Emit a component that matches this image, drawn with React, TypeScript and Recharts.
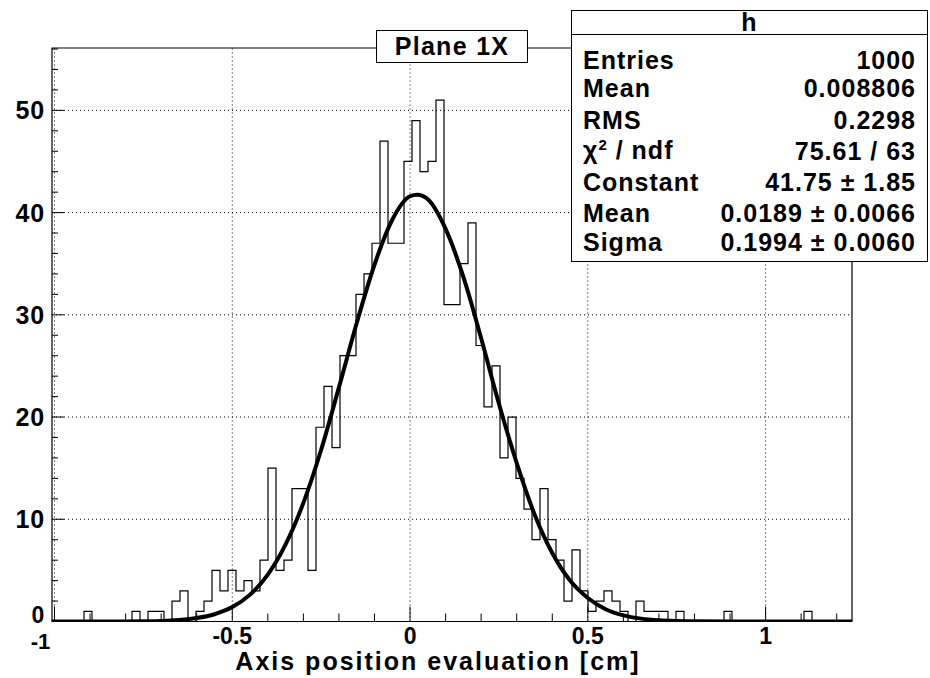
import { ComposedChart, Line, XAxis, YAxis, ReferenceLine, ReferenceArea } from "recharts";

// histogram range / binning (100 bins)
const X_MIN = -1.007;
const X_MAX = 1.243;
const Y_MAX = 56.1;
const BIN_W = (X_MAX - X_MIN) / 100;

// counts per bin
const binCounts = [
  0, 0, 0, 0, 1, 0, 0, 0, 0, 0,
  1, 0, 1, 1, 0, 2, 3, 0, 1, 2,
  5, 3, 5, 3, 4, 3, 6, 15, 5, 6,
  13, 13, 5, 19, 23, 17, 26, 26, 32, 34,
  37, 47, 37, 37, 45, 49, 44, 45, 51, 31,
  31, 35, 39, 27, 21, 25, 16, 20, 14, 11,
  8, 13, 8, 6, 2, 7, 3, 1, 2, 3,
  2, 1, 0, 2, 1, 1, 1, 0, 1, 0,
  0, 0, 0, 0, 1, 0, 0, 0, 0, 0,
  0, 0, 0, 0, 1, 0, 0, 0, 0, 0,
];

// gaus fit curve
const fitX = [-1.007, -0.9, -0.8, -0.75, -0.7, -0.65, -0.6, -0.55, -0.5, -0.45, -0.4, -0.35, -0.3, -0.25, -0.2, -0.15, -0.1, -0.05, 0, 0.02, 0.05, 0.1, 0.15, 0.2, 0.25, 0.3, 0.35, 0.4, 0.45, 0.5, 0.55, 0.6, 0.65, 0.7, 0.75, 0.8, 0.9, 1.0, 1.1, 1.243];
const fitY = [0, 0, 0.01, 0.03, 0.06, 0.15, 0.34, 0.71, 1.41, 2.63, 4.59, 7.54, 11.6, 16.8, 22.9, 29.2, 34.9, 39.3, 41.6, 41.75, 41.3, 38.4, 33.7, 27.7, 21.3, 15.5, 10.5, 6.7, 4.0, 2.3, 1.2, 0.6, 0.28, 0.12, 0.05, 0.02, 0, 0, 0, 0];

const xTicks = [-1, -0.9, -0.8, -0.7, -0.6, -0.5, -0.4, -0.3, -0.2, -0.1, 0, 0.1, 0.2, 0.3, 0.4, 0.5, 0.6, 0.7, 0.8, 0.9, 1, 1.1, 1.2];
const yTicks = [0, 2, 4, 6, 8, 10, 12, 14, 16, 18, 20, 22, 24, 26, 28, 30, 32, 34, 36, 38, 40, 42, 44, 46, 48, 50, 52, 54, 56];
const xGrid = [-1, -0.5, 0, 0.5, 1];
const yGrid = [10, 20, 30, 40, 50];

const statsLabels = ["Entries", "Mean", "RMS", "chi2", "Constant", "Mean", "Sigma"];
const statsValues = ["1000", "0.008806", "0.2298", "75.61 / 63", "41.75 \u00b1 1.85", "0.0189 \u00b1 0.0066", "0.1994 \u00b1 0.0060"];
const statsRowY = [59, 87, 119, 150, 181, 212, 241];

const W = 930;
const H = 678;
const PLOT_LEFT = 52;
const PLOT_BOTTOM = 621.5;
const FONT = '"Liberation Sans", Arial, Helvetica, sans-serif';

const histData = binCounts.map((c, i) => ({ x: X_MIN + i * BIN_W, y: c }));
histData.push({ x: X_MAX, y: binCounts[binCounts.length - 1] });
const fitData = fitX.map((x, i) => ({ x, y: fitY[i] }));

function XTick(props: any) {
  const { x, payload } = props;
  const v = payload.value;
  const major = Math.abs(v * 2 - Math.round(v * 2)) < 1e-6;
  return (
    <g>
      <line x1={x} x2={x} y1={PLOT_BOTTOM} y2={PLOT_BOTTOM - (major ? 15 : 8)} stroke="#000" strokeWidth={1} />
      {major && (
        <text x={v === -1 ? x - 14 : x} y={PLOT_BOTTOM + (v === -1 ? 20 : 14)} textAnchor="middle" dominantBaseline="central"
          fontFamily={FONT} fontWeight="bold" fontSize={v === -1 ? 22 : 23} fill="#000">
          {String(v)}
        </text>
      )}
    </g>
  );
}

function YTick(props: any) {
  const { y, payload } = props;
  const v = payload.value;
  const major = v % 10 === 0;
  return (
    <g>
      <line x1={PLOT_LEFT} x2={PLOT_LEFT + (major ? 12 : 6)} y1={y} y2={y} stroke="#000" strokeWidth={1} />
      {major && (
        <text x={PLOT_LEFT - 7} y={v === 0 ? y - 7 : y} textAnchor="end" dominantBaseline="central"
          fontFamily={FONT} fontWeight="bold" fontSize={v === 0 ? 23 : 25} letterSpacing={0.8} fill="#000">
          {String(v)}
        </text>
      )}
    </g>
  );
}

export default function App() {
  return (
    <div style={{ position: "absolute", left: 0, top: 0, width: W, height: H, background: "#fff", fontFamily: FONT }}>
      <ComposedChart width={W} height={H} margin={{ top: 48, right: 78, bottom: 0, left: 0 }}>
        <XAxis dataKey="x" type="number" domain={[X_MIN, X_MAX]} allowDataOverflow ticks={xTicks} interval={0}
          height={56.5} axisLine={false} tickLine={false} tick={<XTick />} />
        <YAxis type="number" domain={[0, Y_MAX]} allowDataOverflow ticks={yTicks} interval={0}
          width={52} axisLine={false} tickLine={false} tick={<YTick />} />
        {xGrid.map((g) => (
          <ReferenceLine key={"gx" + g} x={g} stroke="#000" strokeWidth={1} strokeDasharray="1 3" />
        ))}
        {yGrid.map((g) => (
          <ReferenceLine key={"gy" + g} y={g} stroke="#000" strokeWidth={1} strokeDasharray="1 3" />
        ))}
        <Line data={histData} dataKey="y" type="stepAfter" stroke="#000" strokeWidth={1.2} dot={false}
          isAnimationActive={false} />
        <Line data={fitData} dataKey="y" type="monotone" stroke="#000" strokeWidth={4} dot={false}
          isAnimationActive={false} />
        <ReferenceArea x1={X_MIN} x2={X_MAX} y1={0} y2={Y_MAX} fill="none" stroke="#000" strokeWidth={1.2} />
      </ComposedChart>

      <div style={{ position: "absolute", left: 376, top: 30, width: 152, height: 33, boxSizing: "border-box",
        border: "1px solid #000", background: "#fff", display: "flex", alignItems: "center", justifyContent: "center",
        fontWeight: "bold", fontSize: 25, letterSpacing: 1.3 }}>
        Plane 1X
      </div>

      <div style={{ position: "absolute", left: 571, top: 10, width: 357, height: 252, boxSizing: "border-box",
        border: "1px solid #000", background: "#fff", fontWeight: "bold", fontSize: 25, letterSpacing: 1 }}>
        <div style={{ height: 23, borderBottom: "1px solid #000", textAlign: "center", lineHeight: "23px" }}>h</div>
        {statsLabels.map((lab, i) => (
          <div key={i} style={{ position: "absolute", left: 11, right: 11, top: statsRowY[i] - 10 - 15, height: 30,
            display: "flex", justifyContent: "space-between", alignItems: "center" }}>
            <span>{lab === "chi2" ? <>{"\u03c7"}<sup style={{ fontSize: 15 }}>2</sup>{" / ndf"}</> : lab}</span>
            <span>{statsValues[i]}</span>
          </div>
        ))}
      </div>

      <div style={{ position: "absolute", left: 138, top: 649, width: 600, textAlign: "center",
        fontWeight: "bold", fontSize: 25, letterSpacing: 2, whiteSpace: "nowrap", lineHeight: "24px" }}>
        Axis position evaluation [cm]
      </div>
    </div>
  );
}
